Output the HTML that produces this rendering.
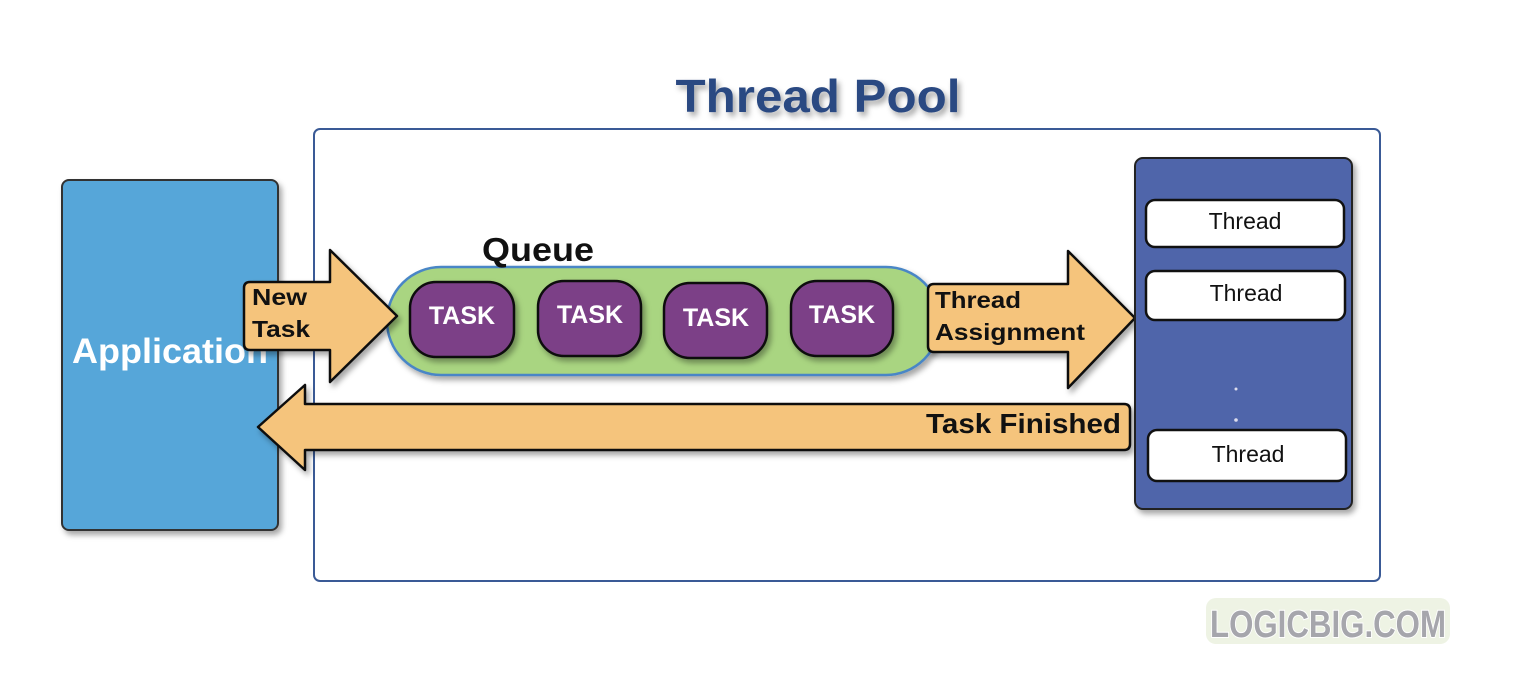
<!DOCTYPE html>
<html><head><meta charset="utf-8"><style>
html,body{margin:0;padding:0;background:#fff;}
svg{display:block;}
text{font-family:"Liberation Sans",sans-serif;}
</style></head><body>
<svg width="1520" height="678" viewBox="0 0 1520 678" xmlns="http://www.w3.org/2000/svg">
<defs>
<filter id="sh" x="-10%" y="-10%" width="130%" height="130%"><feDropShadow dx="3" dy="4" stdDeviation="3" flood-color="#000" flood-opacity="0.35"/></filter>
</defs>
<text x="818" y="112" text-anchor="middle" font-size="46" font-weight="bold" fill="#2c4a82" textLength="285" lengthAdjust="spacingAndGlyphs" filter="url(#sh)">Thread Pool</text>
<rect x="314" y="129" width="1066" height="452" rx="6" fill="#fff" stroke="#3a5a96" stroke-width="2"/>
<rect x="62" y="180" width="216" height="350" rx="7" fill="#57a6d9" stroke="#333" stroke-width="2" filter="url(#sh)"/>
<text x="72" y="363" font-size="35" font-weight="bold" fill="#fff" textLength="196" lengthAdjust="spacingAndGlyphs">Application</text>
<!-- Task finished arrow -->
<path d="M305 404 H1124 Q1130 404 1130 410 V444 Q1130 450 1124 450 H305 V470 L258 427 L305 385 Z" fill="#f5c47b" stroke="#111" stroke-width="2.5" stroke-linejoin="round" filter="url(#sh)"/>
<text x="926" y="433" font-size="28" font-weight="bold" fill="#111" textLength="195" lengthAdjust="spacingAndGlyphs">Task Finished</text>
<!-- queue -->
<rect x="387" y="267" width="553" height="108" rx="54" fill="#a9d581" stroke="#4a86c6" stroke-width="2.5" filter="url(#sh)"/>
<text x="482" y="261" font-size="33" font-weight="bold" fill="#111" textLength="112" lengthAdjust="spacingAndGlyphs">Queue</text>
<!-- new task arrow -->
<path d="M250 282 H330 V250 L397 316 L330 382 V350 H250 Q244 350 244 344 V288 Q244 282 250 282 Z" fill="#f5c47b" stroke="#111" stroke-width="2.5" stroke-linejoin="round" filter="url(#sh)"/>
<text x="252" y="305" font-size="23" font-weight="bold" fill="#111" textLength="55" lengthAdjust="spacingAndGlyphs">New</text>
<text x="252" y="337" font-size="23" font-weight="bold" fill="#111" textLength="58" lengthAdjust="spacingAndGlyphs">Task</text>
<!-- tasks -->
<g font-size="25" font-weight="bold" fill="#fff" text-anchor="middle">
<rect x="410" y="282" width="104" height="75" rx="26" fill="#7b3f87" stroke="#111" stroke-width="2.5" filter="url(#sh)"/>
<text x="462" y="324">TASK</text>
<rect x="538" y="281" width="103" height="75" rx="26" fill="#7b3f87" stroke="#111" stroke-width="2.5" filter="url(#sh)"/>
<text x="590" y="323">TASK</text>
<rect x="664" y="283" width="103" height="75" rx="26" fill="#7b3f87" stroke="#111" stroke-width="2.5" filter="url(#sh)"/>
<text x="716" y="326">TASK</text>
<rect x="791" y="281" width="102" height="75" rx="26" fill="#7b3f87" stroke="#111" stroke-width="2.5" filter="url(#sh)"/>
<text x="842" y="323">TASK</text>
</g>
<!-- thread assignment arrow -->
<path d="M934 284 H1068 V251 L1135 318 L1068 388 V352 H934 Q928 352 928 346 V290 Q928 284 934 284 Z" fill="#f5c47b" stroke="#111" stroke-width="2.5" stroke-linejoin="round" filter="url(#sh)"/>
<text x="935" y="308" font-size="23" font-weight="bold" fill="#111" textLength="86" lengthAdjust="spacingAndGlyphs">Thread</text>
<text x="935" y="340" font-size="23" font-weight="bold" fill="#111" textLength="150" lengthAdjust="spacingAndGlyphs">Assignment</text>
<!-- thread panel -->
<rect x="1135" y="158" width="217" height="351" rx="8" fill="#5065aa" stroke="#222" stroke-width="2" filter="url(#sh)"/>
<g font-size="23" fill="#111" text-anchor="middle">
<rect x="1146" y="200" width="198" height="47" rx="9" fill="#fff" stroke="#111" stroke-width="2.5"/>
<text x="1245" y="229">Thread</text>
<rect x="1146" y="271" width="199" height="49" rx="9" fill="#fff" stroke="#111" stroke-width="2.5"/>
<text x="1246" y="301">Thread</text>
<rect x="1148" y="430" width="198" height="51" rx="9" fill="#fff" stroke="#111" stroke-width="2.5"/>
<text x="1248" y="462">Thread</text>
</g>
<circle cx="1236" cy="389" r="1.5" fill="#dde"/>
<circle cx="1236" cy="420" r="1.8" fill="#dde"/>
<!-- logo -->
<rect x="1206" y="598" width="244" height="46" rx="10" fill="#eef3e4"/>
<text x="1328" y="637" text-anchor="middle" font-family="Liberation Serif,serif" font-size="38" font-weight="bold" fill="#a6a6ac" stroke="#fff" stroke-width="2" paint-order="stroke" textLength="236" lengthAdjust="spacingAndGlyphs">LOGICBIG.COM</text>
</svg>
</body></html>
